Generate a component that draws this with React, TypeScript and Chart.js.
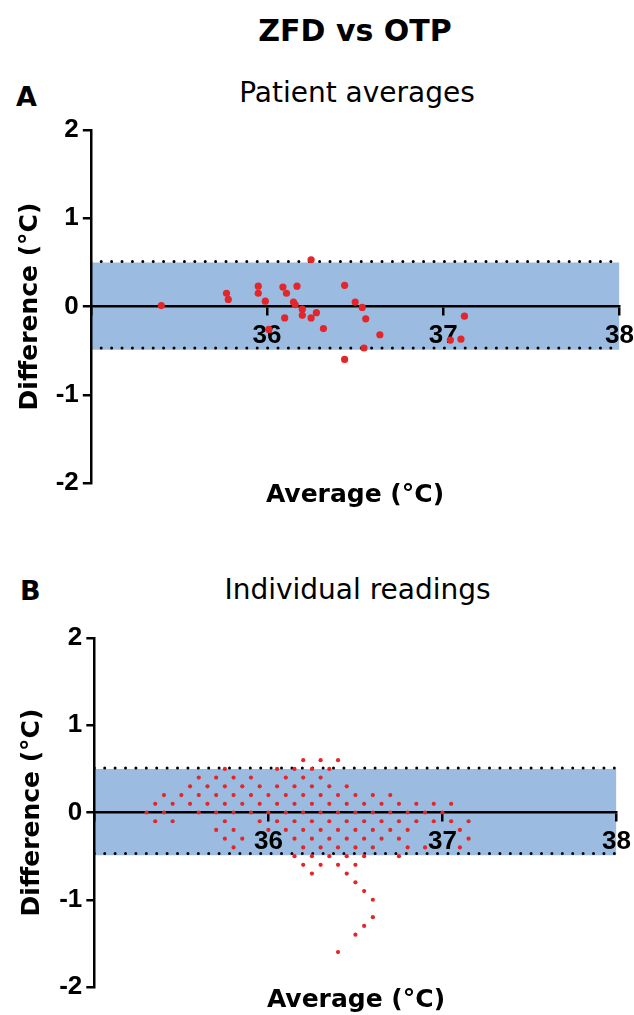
import React, { useEffect, useRef } from 'react';
import { Chart, registerables } from 'chart.js';

Chart.register(...registerables);

// ---------- data ----------
const mainTitle = 'ZFD vs OTP';
const panelLetters = ['A', 'B'];
const panelTitles = ['Patient averages', 'Individual readings'];
const xAxisTitle = 'Average (°C)';
const yAxisTitle = 'Difference (°C)';

const xMin = 35;
const xMax = 38;
const xTickLabels = [36, 37, 38];
const yMin = -2;
const yMax = 2;

// Bland-Altman band and limits of agreement
const bandUpper = 0.5;
const bandLower = -0.49;
const loaUpper = 0.51;
const loaLower = -0.47;

// Panel A: patient averages
const patientAvg = [
  35.40, 35.77, 35.78, 35.95, 35.95, 35.99, 36.01, 36.09, 36.11, 36.17,
  36.15, 36.16, 36.20, 36.20, 36.25, 36.25, 36.28, 36.10, 36.32, 36.44,
  36.50, 36.54, 36.56, 36.64, 36.55, 36.44, 37.12, 37.04, 37.10,
];
const patientDiff = [
  0.01, 0.15, 0.08, 0.23, 0.15, 0.06, -0.26, 0.22, 0.15, 0.23,
  0.05, 0.02, -0.03, -0.10, 0.53, -0.13, -0.07, -0.13, -0.25, 0.24,
  0.05, -0.01, -0.14, -0.32, -0.47, -0.60, -0.11, -0.38, -0.37,
];

// Panel B: individual readings, grouped by difference level
const readingDiffLevels = [
  0.6, 0.5, 0.4, 0.3, 0.2, 0.1, 0, -0.1, -0.2, -0.3, -0.4, -0.5, -0.6, -0.7,
  -0.8, -0.9, -1.0, -1.2, -1.3, -1.4, -1.6,
];
const readingAvgsByLevel = [
  [36.2, 36.3, 36.4],
  [35.75, 36.05, 36.15, 36.25, 36.35],
  [35.6, 35.7, 35.8, 35.9, 36.1, 36.2, 36.3],
  [35.55, 35.65, 35.75, 35.85, 35.95, 36.05, 36.15, 36.25, 36.35, 36.45],
  [35.4, 35.5, 35.6, 35.7, 35.8, 35.9, 36.0, 36.1, 36.2, 36.3, 36.4, 36.5, 36.6, 36.7],
  [35.35, 35.45, 35.55, 35.65, 35.75, 35.85, 35.95, 36.05, 36.15, 36.25, 36.35, 36.45, 36.55, 36.65, 36.75, 36.85, 36.95, 37.05],
  [35.3, 35.4, 35.6, 35.7, 35.8, 35.9, 36.0, 36.1, 36.2, 36.3, 36.4, 36.5, 36.6, 36.7, 36.8, 36.9, 37.0],
  [35.35, 35.45, 35.75, 35.95, 36.05, 36.15, 36.25, 36.35, 36.45, 36.55, 36.65, 36.75, 36.85, 36.95, 37.05, 37.15],
  [35.7, 35.8, 36.0, 36.1, 36.2, 36.3, 36.4, 36.5, 36.6, 36.7, 36.8, 37.1],
  [35.75, 35.85, 36.15, 36.25, 36.35, 36.45, 36.55, 36.65, 36.75, 37.15],
  [35.8, 36.2, 36.3, 36.4, 36.5, 36.6, 36.8, 36.9, 37.1],
  [36.15, 36.25, 36.35, 36.45, 36.55, 36.75],
  [36.2, 36.3, 36.4, 36.5],
  [36.25, 36.45],
  [36.5],
  [36.55],
  [36.6],
  [36.6],
  [36.55],
  [36.5],
  [36.4],
];

// ---------- styles ----------
const RED = '#e3262a';
const BAND = '#9bbce0';
const TICK_FONT = 'Liberation Sans';
const TITLE_FONT = 'DejaVu Sans';

type PanelProps = {
  top: number;
  width: number;
  height: number;
  padding: { top: number; right: number; bottom: number; left: number };
  yTitleGap: number;
  points: { x: number; y: number }[];
  radius: number;
};

function Panel({ top, width, height, padding, yTitleGap, points, radius }: PanelProps) {
  const ref = useRef<HTMLCanvasElement | null>(null);
  useEffect(() => {
    if (!ref.current) return;
    const line = (y: number) => [
      { x: xMin, y },
      { x: xMax, y },
    ];
    const chart = new Chart(ref.current, {
      type: 'line',
      data: {
        datasets: [
          {
            data: points,
            showLine: false,
            pointRadius: radius,
            pointHoverRadius: radius,
            pointBorderWidth: 0,
            pointBackgroundColor: RED,
            backgroundColor: RED,
            borderColor: RED,
          },
          {
            data: line(loaUpper),
            borderColor: '#000',
            borderWidth: 3,
            borderDash: [0, 10.4],
            borderCapStyle: 'round',
            pointRadius: 0,
            fill: false,
          },
          {
            data: line(loaLower),
            borderColor: '#000',
            borderWidth: 3,
            borderDash: [0, 10.4],
            borderCapStyle: 'round',
            pointRadius: 0,
            fill: false,
          },
          {
            data: line(bandUpper),
            borderWidth: 0,
            borderColor: 'rgba(0,0,0,0)',
            backgroundColor: BAND,
            pointRadius: 0,
            fill: { value: bandLower },
          },
        ],
      },
      options: {
        responsive: false,
        animation: false,
        events: [],
        layout: { padding },
        plugins: {
          legend: { display: false },
          tooltip: { enabled: false },
          filler: { drawTime: 'beforeDraw' },
        },
        scales: {
          x: {
            type: 'linear',
            position: { y: 0 },
            min: xMin,
            max: xMax,
            grid: {
              drawOnChartArea: false,
              drawTicks: true,
              tickLength: 8,
              color: '#000',
              lineWidth: 2.5,
            },
            border: { color: '#000', width: 2.5 },
            ticks: {
              stepSize: 1,
              padding: 6,
              color: '#000',
              font: { family: TICK_FONT, size: 26, weight: 'bold' },
              callback: (v: any) => (xTickLabels.includes(Number(v)) ? String(v) : ''),
            },
          },
          y: {
            type: 'linear',
            position: 'left',
            min: yMin,
            max: yMax,
            grid: {
              drawOnChartArea: false,
              drawTicks: true,
              tickLength: 8,
              color: '#000',
              lineWidth: 2.5,
            },
            border: { color: '#000', width: 2.5 },
            ticks: {
              stepSize: 1,
              padding: 4,
              color: '#000',
              font: { family: TICK_FONT, size: 26, weight: 'bold' },
            },
            title: {
              display: true,
              text: yAxisTitle,
              color: '#000',
              font: { family: TITLE_FONT, size: 25, weight: 'bold', lineHeight: 1.2 },
              padding: { top: 5, bottom: yTitleGap },
            },
          },
        },
      } as any,
    });
    return () => chart.destroy();
  }, []);
  return (
    <div style={{ position: 'absolute', left: 0, top, width, height }}>
      <canvas ref={ref} width={width} height={height} style={{ display: 'block' }} />
    </div>
  );
}

const textBase: React.CSSProperties = {
  position: 'absolute',
  fontFamily: TITLE_FONT,
  color: '#000',
  whiteSpace: 'nowrap',
};

export default function App() {
  const pointsA = patientAvg.map((x, i) => ({ x, y: patientDiff[i] }));
  const pointsB: { x: number; y: number }[] = [];
  readingDiffLevels.forEach((y, i) => {
    readingAvgsByLevel[i].forEach((x) => pointsB.push({ x, y }));
  });
  return (
    <div style={{ position: 'absolute', left: 0, top: 0, width: 634, height: 1015, background: '#fff', overflow: 'hidden' }}>
      <div style={{ ...textBase, left: 76, width: 558, top: 15.6, textAlign: 'center', fontSize: 30, lineHeight: '30px', fontWeight: 'bold' }}>
        {mainTitle}
      </div>
      <div style={{ ...textBase, left: 16, top: 83, fontSize: 27, lineHeight: '27px', fontWeight: 'bold' }}>
        {panelLetters[0]}
      </div>
      <div style={{ ...textBase, left: 80, width: 554, top: 79.3, textAlign: 'center', fontSize: 28, lineHeight: '28px' }}>
        {panelTitles[0]}
      </div>
      <div style={{ ...textBase, left: 20, top: 577, fontSize: 27, lineHeight: '27px', fontWeight: 'bold' }}>
        {panelLetters[1]}
      </div>
      <div style={{ ...textBase, left: 81, width: 553, top: 576.3, textAlign: 'center', fontSize: 28, lineHeight: '28px' }}>
        {panelTitles[1]}
      </div>
      <Panel
        top={110}
        width={640}
        height={393}
        padding={{ top: 20, right: 14.5, bottom: 20, left: 10 }}
        yTitleGap={6.7}
        points={pointsA}
        radius={3.6}
      />
      <Panel
        top={618}
        width={637}
        height={389}
        padding={{ top: 20, right: 14.5, bottom: 20, left: 12 }}
        yTitleGap={8.2}
        points={pointsB}
        radius={2.1}
      />
      <div style={{ ...textBase, left: 76, width: 558, top: 481, textAlign: 'center', fontSize: 25, lineHeight: '25px', fontWeight: 'bold' }}>
        {xAxisTitle}
      </div>
      <div style={{ ...textBase, left: 78, width: 556, top: 986, textAlign: 'center', fontSize: 25, lineHeight: '25px', fontWeight: 'bold' }}>
        {xAxisTitle}
      </div>
    </div>
  );
}
